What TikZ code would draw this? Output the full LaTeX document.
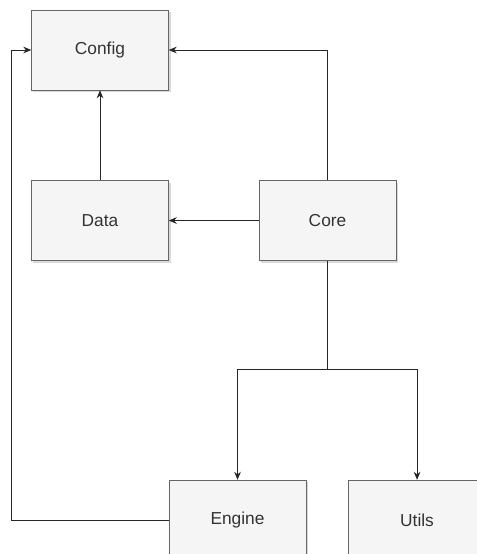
\documentclass[tikz,border=0pt]{standalone}
\usepackage{fontspec}
\setmainfont{Liberation Sans}
\usetikzlibrary{positioning, arrows.meta, shadows}
\definecolor{boxfill}{HTML}{F5F5F5}
\definecolor{boxline}{HTML}{666666}

\begin{document}
\begin{tikzpicture}[
  block/.style={rectangle, draw=boxline, fill=boxfill, minimum width=102.75pt, minimum height=60pt,
    font=\fontsize{13}{15}\selectfont, text=black!80,
    drop shadow={opacity=0.3, shadow xshift=1.5pt, shadow yshift=-1.5pt}},
  link/.style={-{Stealth[length=6pt, width=5pt]}, black!85, line width=0.7pt},
  node distance=67.5pt and 67.5pt
]
\useasboundingbox (-75pt,37.5pt) rectangle (282.75pt,-378pt);

\node[block] (config) {Config};
\node[block] (data) [below=of config] {Data};
\node[block] (core) [right=of data] {Core};

\node[block] (engine) [below=164.25pt of core, xshift=-67.5pt] {Engine};
\node[block] (utils) [right=31.5pt of engine] {Utils};

\coordinate (split) at ([yshift=-81.75pt]core.south);
\coordinate (back) at ([xshift=-15pt]config.west);

\draw[link] (core.north) |- (config.east);
\draw[link] (data.north) -- (config.south);
\draw[link] (core.west) -- (data.east);
\draw[black!85, line width=0.7pt] (core.south) -- (split);
\draw[link] (split) -| (engine.north);
\draw[link] (split) -| (utils.north);
\draw[link] (engine.west) -| (back) -- (config.west);
\end{tikzpicture}
\end{document}
